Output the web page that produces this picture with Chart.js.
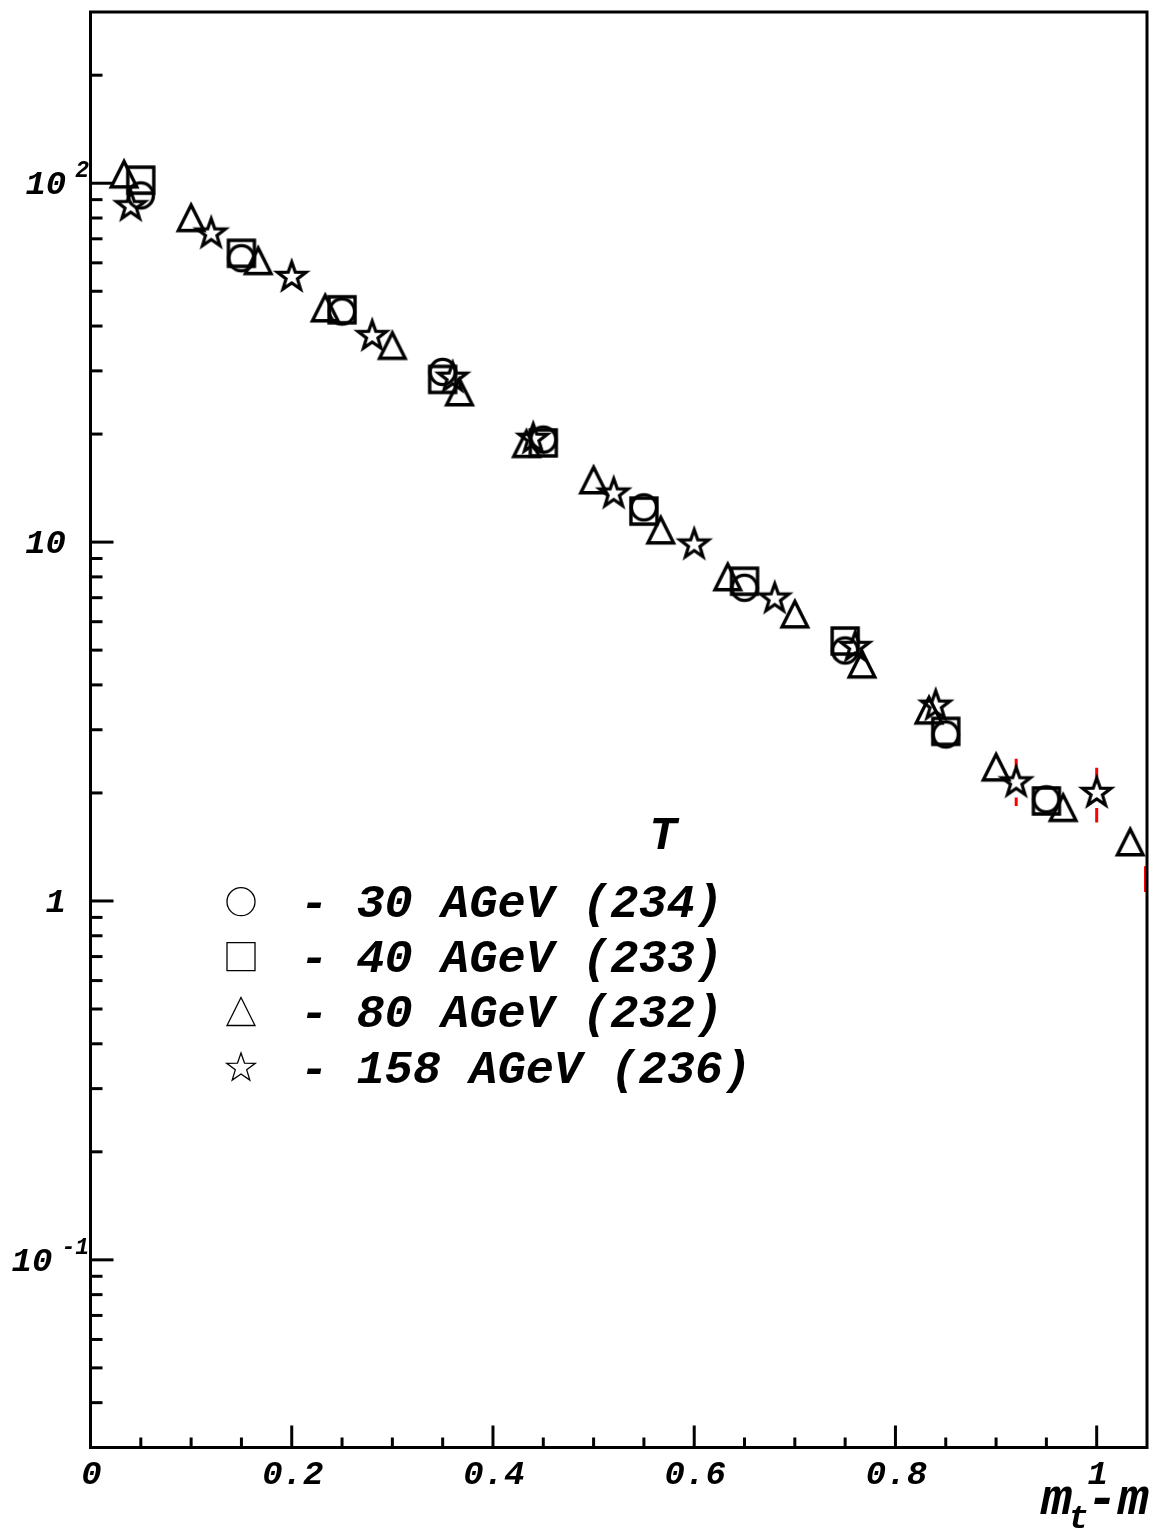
<!DOCTYPE html>
<html><head><meta charset="utf-8">
<script src="https://cdn.jsdelivr.net/npm/chart.js@4.4.1/dist/chart.umd.min.js"></script>
<style>html,body{margin:0;padding:0;background:#fff;}canvas{display:block;}</style>
</head><body>
<canvas id="c" width="1153" height="1532"></canvas>
<script>
// ---- data ----
const x30 = [0.05, 0.15, 0.25, 0.35, 0.45, 0.55, 0.65, 0.75, 0.85, 0.95];
const y30 = [92.5, 61.8, 43.9, 29.8, 19.3, 12.5, 7.46, 4.99, 2.91, 1.92];
const x40 = [0.05, 0.15, 0.25, 0.35, 0.45, 0.55, 0.65, 0.75, 0.85, 0.95];
const y40 = [102, 63.8, 44.4, 28.4, 18.9, 12.2, 7.78, 5.3, 2.97, 1.90];
const x80 = [0.0333, 0.1, 0.1667, 0.2333, 0.3, 0.3667, 0.4333, 0.5, 0.5667, 0.6333, 0.7, 0.7667, 0.8333, 0.9, 0.9667, 1.0333];
const y80 = [106, 80.1, 60.8, 44.9, 35.3, 26.2, 18.8, 14.9, 10.8, 8.0, 6.30, 4.57, 3.40, 2.36, 1.82, 1.46];
const x158 = [0.04, 0.12, 0.20, 0.28, 0.36, 0.44, 0.52, 0.60, 0.68, 0.76, 0.84, 0.92, 1.00];
const y158 = [86.3, 72.4, 54.8, 37.5, 28.7, 19.4, 13.65, 9.84, 6.96, 5.1, 3.5, 2.14, 2.00];
// error bars (red)
const errX = [0.92, 1.00, 1.0485];
const errY = [2.14, 2.00, null];
const errLo = [1.84, 1.655, 1.06];
const errHi = [2.49, 2.35, 1.25];
// labels
const seriesLabels = ['- 30 AGeV (234)', '- 40 AGeV (233)', '- 80 AGeV (232)', '- 158 AGeV (236)'];
const legendTitle = 'T';
const xTickValues = [0, 0.2, 0.4, 0.6, 0.8, 1];
const xTickLabels = ['0', '0.2', '0.4', '0.6', '0.8', '1'];
const yTickValues = [100, 10, 1, 0.1];
const yTickBase = ['10', '10', '1', '10'];
const yTickExp = ['2', '', '', '-1'];
const xMin = 0, xMax = 1.05, yMin = 0.03, yMax = 300;

const FONT = '"Liberation Mono", "Courier New", monospace';

function drawShape(ctx, type, cx, cy, s) {
  ctx.beginPath();
  if (type === 'circle') {
    ctx.arc(cx, cy, s, 0, Math.PI * 2);
  } else if (type === 'square') {
    ctx.rect(cx - s, cy - s, 2 * s, 2 * s);
  } else if (type === 'triangle') {
    ctx.moveTo(cx, cy - s);
    ctx.lineTo(cx + s, cy + s);
    ctx.lineTo(cx - s, cy + s);
    ctx.closePath();
  } else if (type === 'star') {
    const R = s, r = s * 0.40;
    for (let i = 0; i < 10; i++) {
      const a = -Math.PI / 2 + i * Math.PI / 5;
      const rr = i % 2 === 0 ? R : r;
      const px = cx + rr * Math.cos(a), py = cy + rr * Math.sin(a);
      if (i === 0) ctx.moveTo(px, py); else ctx.lineTo(px, py);
    }
    ctx.closePath();
  }
  ctx.stroke();
}

function makeMarker(type, s, lw) {
  const c = document.createElement('canvas');
  c.width = 48; c.height = 48;
  const ctx = c.getContext('2d');
  ctx.strokeStyle = '#000';
  ctx.lineWidth = lw;
  ctx.lineJoin = 'miter';
  drawShape(ctx, type, 24, 24, s);
  return c;
}

const markers = {
  circle: makeMarker('circle', 12.6, 3.4),
  square: makeMarker('square', 13, 3.4),
  triangle: makeMarker('triangle', 12.8, 3.4),
  star: makeMarker('star', 15, 3.2)
};

function pts(xs, ys) { return xs.map((x, i) => ({ x: x, y: ys[i] })); }

const decor = {
  id: 'decor',
  beforeDatasetsDraw(chart) {
    const ctx = chart.ctx, xs = chart.scales.x, ys = chart.scales.y;
    ctx.save();
    ctx.strokeStyle = '#ff0000';
    ctx.lineWidth = 3;
    for (let i = 0; i < errX.length; i++) {
      const px = xs.getPixelForValue(errX[i]);
      const pHi = ys.getPixelForValue(errHi[i]);
      const pLo = ys.getPixelForValue(errLo[i]);
      ctx.beginPath();
      if (errY[i] !== null) {
        const pc = ys.getPixelForValue(errY[i]);
        if (pc - 15 > pHi) { ctx.moveTo(px, pHi); ctx.lineTo(px, pc - 15); }
        if (pc + 15 < pLo) { ctx.moveTo(px, pc + 15); ctx.lineTo(px, pLo); }
      } else {
        ctx.moveTo(px, pHi); ctx.lineTo(px, pLo);
      }
      ctx.stroke();
    }
    ctx.restore();
  },
  afterDatasetsDraw(chart) {
    const ctx = chart.ctx, xs = chart.scales.x, ys = chart.scales.y;
    const a = chart.chartArea;
    ctx.save();
    ctx.strokeStyle = '#000';
    ctx.fillStyle = '#000';
    ctx.lineWidth = 3;
    ctx.lineCap = 'butt';
    // x ticks
    for (let i = 1; i * 0.05 < xMax - 1e-6; i++) {
      const v = i * 0.05;
      const px = xs.getPixelForValue(v);
      const len = (i % 4 === 0) ? 22 : 10;
      ctx.beginPath(); ctx.moveTo(px, a.bottom); ctx.lineTo(px, a.bottom - len); ctx.stroke();
    }
    // y ticks
    for (let e = -2; e <= 2; e++) {
      for (let m = 1; m <= 9; m++) {
        const v = m * Math.pow(10, e);
        if (v <= yMin * 1.0001 || v >= yMax * 0.9999) continue;
        const py = ys.getPixelForValue(v);
        const len = (m === 1) ? 23 : 12;
        ctx.beginPath(); ctx.moveTo(a.left, py); ctx.lineTo(a.left + len, py); ctx.stroke();
      }
    }
    // frame
    ctx.strokeRect(a.left, a.top, a.right - a.left, a.bottom - a.top);

    // x labels
    ctx.font = 'italic bold 34px ' + FONT;
    ctx.textAlign = 'center';
    ctx.textBaseline = 'alphabetic';
    xTickValues.forEach((v, i) => {
      ctx.fillText(xTickLabels[i], xs.getPixelForValue(v) + 1, 1484);
    });
    // y labels
    yTickValues.forEach((v, i) => {
      const py = ys.getPixelForValue(v);
      const base = yTickBase[i], exp = yTickExp[i];
      if (!exp) {
        ctx.font = 'italic bold 34px ' + FONT;
        ctx.textAlign = 'right';
        ctx.fillText(base, 66, py + 11);
      } else {
        ctx.font = 'italic bold 23px ' + FONT;
        const ew = ctx.measureText(exp).width;
        ctx.textAlign = 'left';
        ctx.fillText(exp, 89 - ew, py - 6);
        ctx.font = 'italic bold 34px ' + FONT;
        ctx.textAlign = 'right';
        ctx.fillText(base, 89 - ew - 9, py + 11);
      }
    });
    // axis title  m_t-m
    ctx.textAlign = 'left';
    let tx = 1041;
    ctx.font = 'italic bold 52px ' + FONT;
    ctx.fillText('m', tx, 1514);
    tx += ctx.measureText('m').width;
    ctx.font = 'italic bold 34px ' + FONT;
    ctx.fillText('t', tx - 4, 1528);
    tx += ctx.measureText('t').width - 6;
    ctx.font = 'italic bold 52px ' + FONT;
    ctx.fillText('-m', tx, 1514);

    // legend
    ctx.font = 'italic bold 47px ' + FONT;
    ctx.textAlign = 'center';
    ctx.fillText(legendTitle, 663, 849);
    const types = ['circle', 'square', 'triangle', 'star'];
    const rows = [901.7, 956.7, 1011.5, 1068];
    ctx.lineWidth = 1.3;
    ctx.lineJoin = 'miter';
    types.forEach((t, i) => {
      const s = t === 'star' ? 15 : 14;
      drawShape(ctx, t, 241, rows[i], s);
      ctx.textAlign = 'left';
      ctx.fillText(seriesLabels[i], 300, rows[i] + 15);
    });
    ctx.restore();
  }
};

new Chart(document.getElementById('c'), {
  type: 'scatter',
  data: {
    datasets: [
      { label: seriesLabels[0], data: pts(x30, y30), pointStyle: markers.circle, pointRadius: 14, clip: false },
      { label: seriesLabels[1], data: pts(x40, y40), pointStyle: markers.square, pointRadius: 14, clip: false },
      { label: seriesLabels[2], data: pts(x80, y80), pointStyle: markers.triangle, pointRadius: 14, clip: false },
      { label: seriesLabels[3], data: pts(x158, y158), pointStyle: markers.star, pointRadius: 14, clip: false }
    ]
  },
  options: {
    responsive: false,
    devicePixelRatio: 1,
    animation: false,
    events: [],
    layout: { autoPadding: false, padding: { left: 90.5, right: 6, top: 12, bottom: 84.5 } },
    plugins: { legend: { display: false }, tooltip: { enabled: false } },
    scales: {
      x: { type: 'linear', min: xMin, max: xMax, display: false },
      y: { type: 'logarithmic', min: yMin, max: yMax, display: false }
    }
  },
  plugins: [decor]
});
</script>
</body></html>
